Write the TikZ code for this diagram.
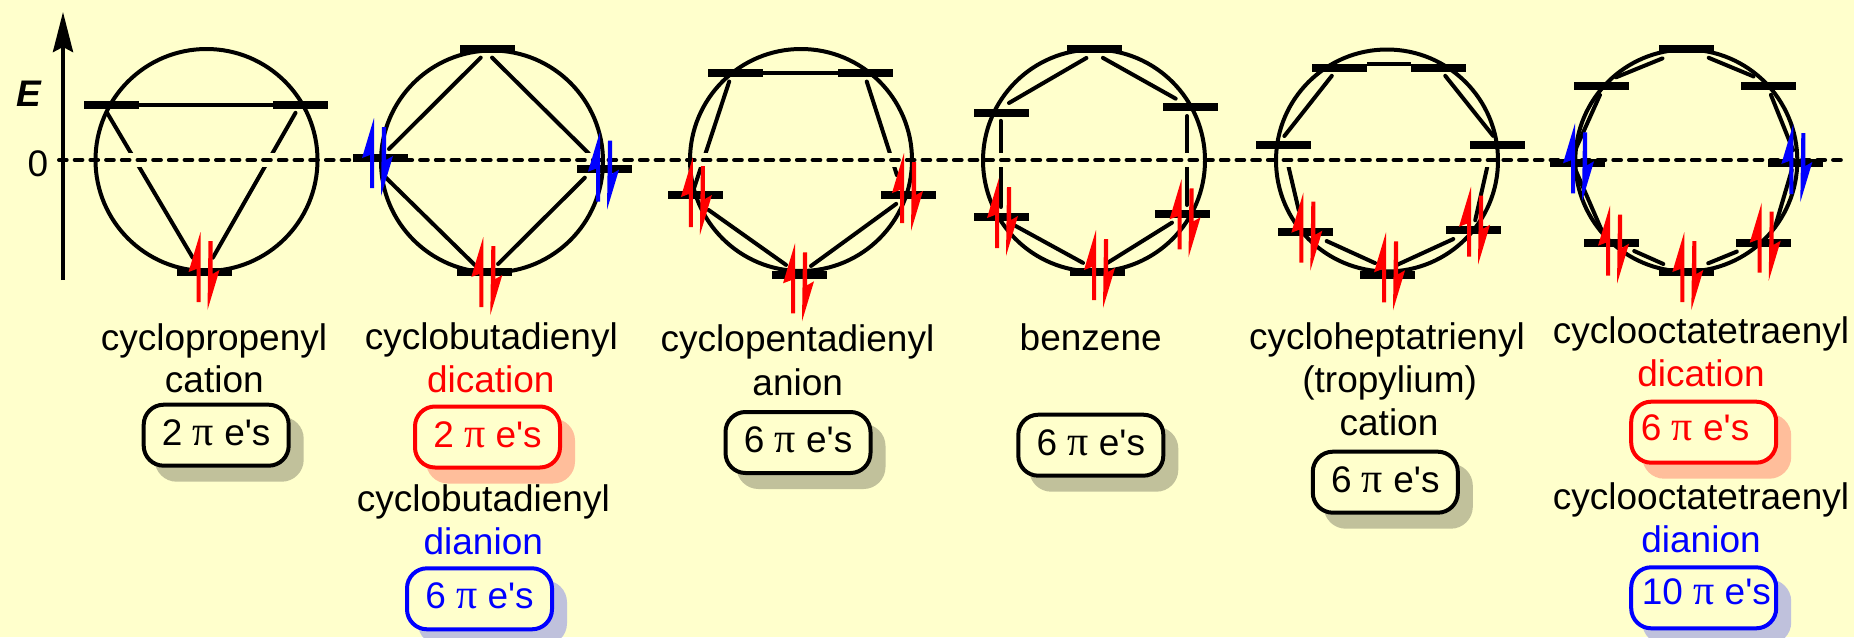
\documentclass[tikz,border=0pt]{standalone}
\usepackage{fontspec}
\newfontfamily\lblfont{Liberation Sans}
\newfontfamily\pifont{Liberation Serif}
\usetikzlibrary{arrows.meta,shadows}
\definecolor{bgyellow}{RGB}{255,255,204}
\definecolor{shadeblack}{RGB}{193,193,155}
\definecolor{shadered}{RGB}{255,190,155}
\definecolor{shadeblue}{RGB}{191,193,220}
\newcommand{\piel}[1]{#1 {\pifont\fontsize{42}{44}\selectfont π} e's}
\begin{document}
\begin{tikzpicture}[
  x=1pt, y=-1pt,
  level/.style={fill=black, inner sep=0pt, minimum width=55pt, minimum height=8pt},
  ring/.style={draw, circle, line width=4pt, inner sep=0pt, minimum size=222pt},
  bond/.style={line width=4pt, line cap=round},
  flat/.style={line width=3.5pt},
  lbl/.style={anchor=base, inner sep=0pt, font=\fontsize{37}{44}\selectfont\lblfont},
  pibox/.style={draw, rounded corners=20pt, line width=4pt, fill=bgyellow, inner sep=0pt,
    minimum width=145pt, minimum height=61pt, text height=25pt, text depth=5pt,
    font=\fontsize{37}{44}\selectfont\lblfont,
    general shadow={fill=#1, draw=#1, shadow xshift=13pt, shadow yshift=-14pt}},
  pair/.pic={
    \path[pic actions] (-6.5,-40) -- (-18.5,0) -- (-10.5,-3) -- (-10.5,30) -- (-6.5,30) -- cycle;
    \path[pic actions] (1.5,-31) -- (5.5,-31) -- (5.5,2) -- (12.5,-2) -- (0.5,38) -- cycle;
  }
]
\path[use as bounding box, fill=bgyellow] (0,0) rectangle (1854,637);

\coordinate (axbot) at (63,280);
\coordinate (axtop) at (63,12);
\coordinate (zeroa) at (59,160);
\coordinate (zerob) at (1846,160);

\foreach \n/\x/\y in {triv1/102.5/105, triv2/300/105, triv3/203/275,
  sqv1/486.4/52, sqv2/373/165, sqv3/486/276, sqv4/599/163.6,
  penv1/732/73, penv2/864/73, penv3/904.3/198, penv4/799.4/274.4, penv5/691/197.5,
  hexv1/1094.6/53.2, hexv2/1000.7/107.8, hexv3/1000.7/217.8, hexv4/1096/270, hexv5/1187/213.3, hexv6/1187/105,
  hepv1/1338/68, hepv2/1439/68, hepv3/1494/137, hepv4/1473/230, hepv5/1388/269, hepv6/1303.5/230.5, hepv7/1282/139,
  octv1/1686.5/48.6, octv2/1606/81.4, octv3/1571/159.5, octv4/1605/238, octv5/1684/273.2, octv6/1772/237.2, octv7/1795.7/156.7, octv8/1765.5/81.4}
  \coordinate (\n) at (\x,\y);

\foreach \p/\q/\s/\e in {triv1/triv3/9/20, triv2/triv3/9/20,
  sqv1/sqv2/8/22.6, sqv2/sqv3/16.7/15.6, sqv3/sqv4/17/20, sqv4/sqv1/14.3/8,
  penv2/penv3/9/24, penv3/penv4/10/14.3, penv5/penv4/21.6/16.4, penv1/penv5/9/10,
  hexv1/hexv2/9.5/9.6, hexv2/hexv3/13/10.8, hexv3/hexv4/12.9/14.8, hexv4/hexv5/13.5/17.7, hexv5/hexv6/8.3/11, hexv6/hexv1/13/9.5,
  hepv2/hepv3/10/1.5, hepv3/hepv4/31/10, hepv4/hepv5/21.7/9.6, hepv5/hepv6/14.3/25.4, hepv6/hepv7/21/29, hepv7/hepv1/3.8/10,
  octv1/octv2/26/10.8, octv2/octv3/14.9/10, octv3/octv4/11.5/8.6, octv4/octv5/32/22.6, octv5/octv6/26.2/38, octv6/octv7/10.9/13.9, octv7/octv8/7/14.5, octv8/octv1/13/24}
  \draw[bond, shorten <=\s pt, shorten >=\e pt] (\p) -- (\q);

\draw[line width=4pt, line cap=round, dash pattern=on 7.7pt off 8pt,
  preaction={draw=bgyellow, solid, line width=14pt}] (zeroa) -- (zerob);

\foreach \n/\x/\y in {ringtri/206.5/160, ringsq/492/161.5, ringpen/801/160, ringhex/1094/160.5, ringhep/1387/160.5, ringoct/1686.3/160.5}
  \node[ring] (\n) at (\x,\y) {};

\foreach \n/\x/\y in {tri1/111.5/105, tri2/300.5/105, tri3/204.5/272,
  sq1/487.5/49, sq2/380.5/158, sq3/484.5/272, sq4/604.5/169,
  pen1/735.4/73, pen2/865.4/73, pen3/908.5/195, pen4/799.5/274.7, pen5/695.4/195,
  hex1/1094.6/49, hex2/1001.4/113, hex3/1001.4/217, hex4/1097.5/272, hex5/1182.5/214, hex6/1190.4/107,
  hep1/1339.5/68, hep2/1438.5/68, hep3/1497.5/145, hep4/1473.5/230, hep5/1387.5/275, hep6/1305.5/232, hep7/1283.5/145,
  oct1/1686.5/49, oct2/1601.5/86, oct3/1577.5/163, oct4/1611.5/243, oct5/1686.5/272, oct6/1763.5/243, oct7/1795.5/163, oct8/1768.5/86}
  \node[level] (\n) at (\x,\y) {};

\draw[flat] (tri1) -- (tri2);
\draw[flat] (pen1) -- (pen2);
\draw[flat] (hep1.north east) -- (hep2.north west);

\draw[line width=4pt, -{Stealth[length=40pt, width=20pt, inset=5pt]}] (axbot) -- (axtop);

\foreach \x/\y in {207/272, 489.8/277, 699.4/197, 910.5/193, 801.5/283.3, 1005.5/218, 1188/219.3, 1102.5/270,
  1309.8/232.7, 1477.5/226.7, 1392.5/272.3, 1616.5/245.7, 1768.2/242.7, 1690.8/272}
  \pic[fill=red] at (\x,\y) {pair};
\foreach \x/\y in {380.5/158, 606.5/171.7, 1581.5/163.3, 1799.8/164}
  \pic[fill=blue] at (\x,\y) {pair};

\node[lbl, font=\fontsize{37}{44}\selectfont\lblfont\bfseries\itshape] (enlab) at (28.7,106.7) {E};
\node[lbl] (zlab) at (38,176) {0};

\node[lbl] (tri) at (214,350) {cyclopropenyl};
\node[lbl] (tric) at (214.3,392.7) {cation};
\node[pibox=shadeblack] (trib) at (216.2,435.2) {\piel{2}};

\node[lbl] (sqa) at (491.3,349.3) {cyclobutadienyl};
\node[lbl, text=red] (sqc) at (490.8,392.7) {dication};
\node[pibox=shadered, draw=red, text=red] (sqb) at (487.5,437) {\piel{2}};
\node[lbl] (sqd) at (483.3,511.7) {cyclobutadienyl};
\node[lbl, text=blue] (sqe) at (483.3,554.3) {dianion};
\node[pibox=shadeblue, draw=blue, text=blue] (sqf) at (479.5,598.8) {\piel{6}};

\node[lbl] (pen) at (797.5,351.7) {cyclopentadienyl};
\node[lbl] (pena) at (797.7,395.7) {anion};
\node[pibox=shadeblack] (penb) at (798,442.5) {\piel{6}};

\node[lbl] (hex) at (1090.7,350) {benzene};
\node[pibox=shadeblack] (hexb) at (1090.8,445.2) {\piel{6}};

\node[lbl] (hep) at (1387,349.3) {cycloheptatrienyl};
\node[lbl] (hept) at (1389.7,392.7) {(tropylium)};
\node[lbl] (hepc) at (1389,435) {cation};
\node[pibox=shadeblack] (hepb) at (1385.3,482.2) {\piel{6}};

\node[lbl] (octa) at (1701,343.3) {cyclooctatetraenyl};
\node[lbl, text=red] (octc) at (1701,386.7) {dication};
\node[pibox=shadered, draw=red, text=red, text height=23.5pt, text depth=6.5pt] (octb) at (1703.7,432.2) {\piel{6}\kern17.4pt};
\node[lbl] (octd) at (1701,509) {cyclooctatetraenyl};
\node[lbl, text=blue] (octe) at (1701,552.3) {dianion};
\node[pibox=shadeblue, draw=blue, text=blue, text height=22pt, text depth=8pt] (octf) at (1703.7,597.8) {\hspace{5.2pt}\piel{10}};
\end{tikzpicture}
\end{document}
